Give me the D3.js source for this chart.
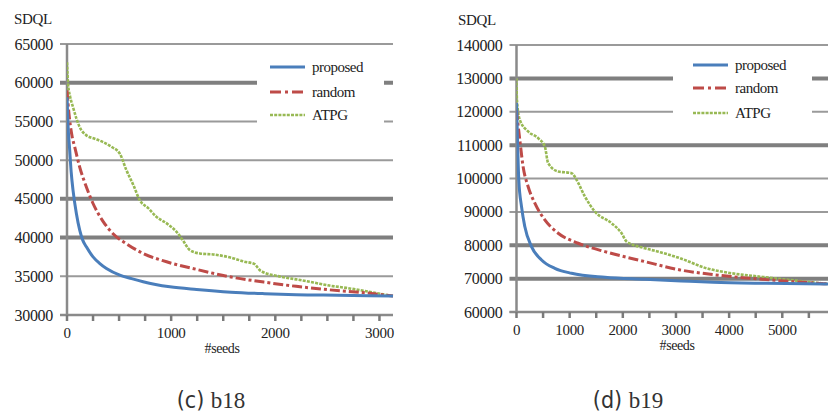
<!DOCTYPE html>
<html>
<head>
<meta charset="utf-8">
<script src="https://cdn.jsdelivr.net/npm/d3@7"></script>
<style>
  body { margin: 0; background: #fff; }
</style>
</head>
<body>
<svg id="canvas" width="828" height="416"></svg>
<script>
// ---- data ----
let seriesNames = ['proposed', 'random', 'ATPG']

let b18Proposed = [[0,58130],[10,54500],[26,51260],[40,48500],[58,46100],[90,43100],[122,40950],[150,39700],[186,38800],[250,37500],[310,36700],[379,36000],[507,35150],[620,34700],[731,34300],[850,33950],[988,33650],[1244,33300],[1575,32950],[1900,32750],[2200,32620],[2600,32550],[3130,32450]]
let b18Random = [[0,59000],[10,57300],[26,55130],[50,53000],[74,51700],[122,49100],[186,46530],[250,44400],[346,42100],[442,40500],[571,39200],[731,37950],[956,36870],[1244,35890],[1575,34900],[1890,34250],[2200,33700],[2520,33250],[2835,32900],[3130,32450]]
let b18Atpg = [[0,62640],[10,59860],[30,58200],[58,56840],[90,55400],[122,54270],[186,53200],[260,52800],[346,52330],[430,51700],[507,50840],[571,48690],[640,46700],[699,44820],[780,43800],[860,42670],[960,41800],[1052,40740],[1110,39700],[1180,38380],[1276,37950],[1416,37800],[1575,37400],[1700,36900],[1797,36600],[1860,35700],[2050,34950],[2200,34600],[2365,34200],[2520,33800],[2680,33500],[2900,33000],[3130,32450]]

let b19Proposed = [[0,122600],[19,111600],[43,99600],[94,91600],[156,85600],[282,79600],[471,75600],[721,73100],[1036,71600],[1663,70400],[2416,69800],[3100,69300],[3700,68900],[4700,68600],[5860,68400]]
let b19Random = [[0,120600],[30,116000],[62,111600],[124,103600],[218,97600],[345,92600],[533,87600],[784,83600],[1160,80600],[1663,78100],[2416,75100],[3079,72600],[3700,71200],[4322,70200],[4944,69400],[5860,68400]]
let b19Atpg = [[0,130000],[8,123600],[62,117600],[218,114100],[407,112100],[533,109600],[595,104600],[784,102100],[1036,101600],[1130,99600],[1286,94600],[1475,90100],[1789,86600],[1977,83600],[2072,81100],[2416,79100],[2706,77900],[3079,76100],[3576,73100],[4011,71700],[4633,70500],[5255,69400],[5860,68400]]

let b18YTicks = [30000, 35000, 40000, 45000, 50000, 55000, 60000, 65000]
let b18ThickGrid = [40000, 45000, 60000]
let b18XTicks = d3.range(0, 3001, 250)
let b18XLabels = [0, 1000, 2000, 3000]

let b19YTicks = [60000, 70000, 80000, 90000, 100000, 110000, 120000, 130000, 140000]
let b19ThickGrid = [70000, 80000, 110000, 130000]
let b19XTicks = d3.range(0, 5501, 500)
let b19XLabels = [0, 1000, 2000, 3000, 4000, 5000]

let colors = ['#4a7ebb', '#be4b48', '#98b954']
let dashes = [null, '10,3,3,3', '3,1.2']
let widths = [3, 3, 2.6]

let serif = '"Liberation Serif", "DejaVu Serif", "Times New Roman", serif'
let narrow = '"Liberation Sans Narrow", "DejaVu Sans Condensed", "DejaVu Sans", sans-serif'
let canvas = d3.select('#canvas')

let drawPanel = (p) => {
    let g = canvas.append('g')
    let x = d3.scaleLinear().domain(p.xDomain).range([p.left, p.right])
    let y = d3.scaleLinear().domain(p.yDomain).range([p.bottom, p.top])

    // gridlines
    g.selectAll('.grid').data(p.yTicks).enter().append('line')
        .attr('x1', p.left - 7).attr('x2', p.gridRight)
        .attr('y1', d => y(d)).attr('y2', d => y(d))
        .attr('stroke', d => p.thick.includes(d) ? '#7f7f7f' : '#9a9a9a')
        .attr('stroke-width', d => p.thick.includes(d) ? 4 : 2)

    // legend box hides gridlines behind it
    g.append('rect')
        .attr('x', p.legend.x0).attr('y', p.legend.y0)
        .attr('width', p.legend.x1 - p.legend.x0).attr('height', p.legend.y1 - p.legend.y0)
        .attr('fill', '#fff')

    // y labels
    g.selectAll('.ylab').data(p.yTicks).enter().append('text')
        .attr('x', p.left - 14).attr('y', d => y(d))
        .attr('dy', '0.35em').attr('text-anchor', 'end')
        .style('font-family', serif).style('font-size', '16px').style('letter-spacing', '-0.3px')
        .attr('fill', '#222')
        .text(d => d)

    // axes
    g.append('line').attr('x1', p.left).attr('x2', p.left)
        .attr('y1', p.top).attr('y2', p.bottom + 1)
        .attr('stroke', '#8a8a8a').attr('stroke-width', 2.5)
    g.append('line').attr('x1', p.left - 7).attr('x2', p.gridRight)
        .attr('y1', p.bottom).attr('y2', p.bottom)
        .attr('stroke', '#8a8a8a').attr('stroke-width', 2.5)
    g.selectAll('.xtick').data(p.xTicks).enter().append('line')
        .attr('x1', d => x(d)).attr('x2', d => x(d))
        .attr('y1', p.bottom).attr('y2', p.bottom + 6)
        .attr('stroke', '#7a7a7a').attr('stroke-width', 2.5)
    g.selectAll('.xlab').data(p.xLabels).enter().append('text')
        .attr('x', d => x(d)).attr('y', p.bottom + 23)
        .attr('text-anchor', 'middle')
        .style('font-family', serif).style('font-size', '15px').style('letter-spacing', '-0.3px')
        .attr('fill', '#222')
        .text(d => d)

    g.append('text').attr('x', p.seedsX).attr('y', p.bottom + 38)
        .attr('text-anchor', 'middle')
        .style('font-family', serif).style('font-size', '14px').style('letter-spacing', '-0.4px')
        .attr('fill', '#222')
        .text('#seeds')
    g.append('text').attr('x', p.sdqlX).attr('y', p.top - 20)
        .style('font-family', serif).style('font-size', '15px').style('letter-spacing', '-0.3px')
        .attr('fill', '#222')
        .text('SDQL')

    // series
    let line = d3.line().x(d => x(d[0])).y(d => y(d[1])).curve(d3.curveMonotoneX)
    let clipId = 'clip' + p.id
    g.append('clipPath').attr('id', clipId).append('rect')
        .attr('x', p.left).attr('y', p.top - 10).attr('width', p.right - p.left + 2).attr('height', p.bottom - p.top + 10)
    p.series.slice().reverse().forEach((s, ri) => {
        let i = p.series.length - 1 - ri
        g.append('path').datum(s)
            .attr('clip-path', 'url(#' + clipId + ')')
            .attr('d', line)
            .attr('fill', 'none')
            .attr('stroke', colors[i])
            .attr('stroke-width', widths[i])
            .attr('stroke-dasharray', dashes[i])
    })

    // legend
    seriesNames.forEach((name, i) => {
        let ly = p.legend.rowY[i]
        g.append('line').attr('x1', p.legend.lineX).attr('x2', p.legend.lineX + 35)
            .attr('y1', ly).attr('y2', ly)
            .attr('stroke', colors[i]).attr('stroke-width', widths[i])
            .attr('stroke-dasharray', i === 1 ? '11,4,3,4' : dashes[i])
        g.append('text').attr('x', p.legend.lineX + 42).attr('y', ly).attr('dy', '0.3em')
            .style('font-family', serif).style('font-size', '15px').style('letter-spacing', '-0.5px')
            .attr('fill', '#222')
            .text(name)
    })

    // caption: letter in a narrow sans, name in serif
    let cap = g.append('text')
        .attr('x', p.captionX).attr('y', 408)
        .attr('text-anchor', 'middle')
        .style('font-size', '23px')
        .attr('fill', '#333')
    cap.append('tspan').style('font-family', narrow).text(p.caption[0] + ' ')
    cap.append('tspan').style('font-family', serif).text(p.caption[1])
}

drawPanel({
    id: 'b18', xDomain: [0, 3130], yDomain: [30000, 65000],
    left: 67, right: 393, gridRight: 393, top: 44, bottom: 315,
    yTicks: b18YTicks, thick: b18ThickGrid, xTicks: b18XTicks, xLabels: b18XLabels,
    series: [b18Proposed, b18Random, b18Atpg],
    legend: { x0: 257, x1: 384, y0: 52, y1: 128, lineX: 270, rowY: [67, 92, 115] },
    seedsX: 222, sdqlX: 14, captionX: 211, caption: ['(c)', 'b18']
})

drawPanel({
    id: 'b19', xDomain: [0, 5860], yDomain: [60000, 140000],
    left: 516.5, right: 828, gridRight: 830, top: 45, bottom: 312,
    yTicks: b19YTicks, thick: b19ThickGrid, xTicks: b19XTicks, xLabels: b19XLabels,
    series: [b19Proposed, b19Random, b19Atpg],
    legend: { x0: 673, x1: 812, y0: 50, y1: 126, lineX: 693, rowY: [65, 88, 113] },
    seedsX: 677, sdqlX: 458, captionX: 628, caption: ['(d)', 'b19']
})
</script>
</body>
</html>
